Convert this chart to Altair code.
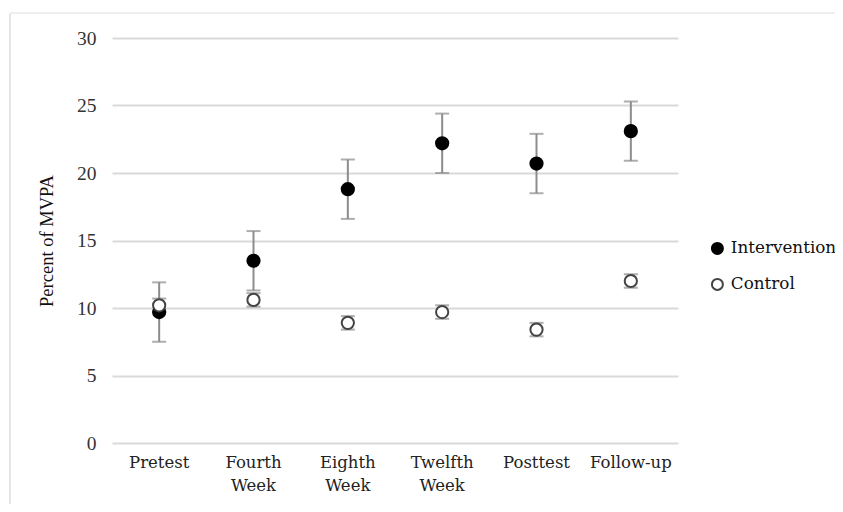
import altair as alt
import pandas as pd

categories = ["Pretest", "Fourth Week", "Eighth Week", "Twelfth Week", "Posttest", "Follow-up"]
groups = ["Intervention", "Control"]
intervention_mean = [9.7, 13.5, 18.8, 22.2, 20.7, 23.1]
intervention_err = [2.2, 2.2, 2.2, 2.2, 2.2, 2.2]
control_mean = [10.2, 10.6, 8.9, 9.7, 8.4, 12.0]
control_err = [0.5, 0.5, 0.5, 0.5, 0.5, 0.5]

rows = []
for c, m, e in zip(categories, intervention_mean, intervention_err):
    rows.append({"cat": c, "group": "Intervention", "mean": m, "lo": m - e, "hi": m + e})
for c, m, e in zip(categories, control_mean, control_err):
    rows.append({"cat": c, "group": "Control", "mean": m, "lo": m - e, "hi": m + e})
df = pd.DataFrame(rows)

W, H = 566, 405
xenc = alt.X("cat:N", sort=categories, title=None,
             scale=alt.Scale(paddingInner=0, paddingOuter=0),
             axis=alt.Axis(labelAngle=0, ticks=False, domain=False, grid=False,
                           labelExpr="split(datum.label, ' ')",
                           labelFont="DejaVu Serif", labelFontSize=16.5, labelColor="#222",
                           labelPadding=11, labelLineHeight=23, labelBaseline="top"))
yscale = alt.Scale(domain=[0, 30])

base = alt.Chart(df)

rules = base.mark_rule(color="#8c8c8c", strokeWidth=2).encode(
    x=xenc, y=alt.Y("lo:Q", scale=yscale), y2="hi:Q")
caps_hi = base.mark_tick(color="#8c8c8c", thickness=2, size=14, orient="horizontal").encode(
    x=xenc, y=alt.Y("hi:Q", scale=yscale))
caps_lo = base.mark_tick(color="#8c8c8c", thickness=2, size=14, orient="horizontal").encode(
    x=xenc, y=alt.Y("lo:Q", scale=yscale))

leg = dict(title=None, orient="none", legendX=597, legendY=202,
           labelFont="DejaVu Serif", labelFontSize=16.8, labelColor="#111",
           symbolSize=120, symbolStrokeWidth=2, rowPadding=16, labelOffset=5,
           labelLimit=300)

points = base.mark_point(shape="circle", size=150, strokeWidth=2, opacity=1, filled=False).encode(
    x=xenc,
    y=alt.Y("mean:Q", scale=yscale, title="Percent of MVPA",
            axis=alt.Axis(values=[0, 5, 10, 15, 20, 25, 30], ticks=False, domain=False,
                          gridColor="#d9d9d9", gridWidth=2,
                          labelFont="Liberation Serif", labelFontSize=19.5, labelColor="#333",
                          labelPadding=16, titleFont="Liberation Serif", titleFontSize=18.5,
                          titleFontWeight="normal", titleColor="#111", titlePadding=20)),
    fill=alt.Fill("group:N", sort=groups,
                  scale=alt.Scale(domain=groups, range=["#000000", "#ffffff"]),
                  legend=alt.Legend(**leg)),
    stroke=alt.Stroke("group:N", sort=groups,
                      scale=alt.Scale(domain=groups, range=["#000000", "#444444"]),
                      legend=alt.Legend(**leg)),
)

frame_left = alt.Chart(df).mark_rule(color="#e6e6e6", strokeWidth=2, clip=False).encode(
    x=alt.value(-102), y=alt.value(-25), y2=alt.value(H + 70))
frame_top = alt.Chart(df).mark_rule(color="#eeeeee", strokeWidth=2, clip=False).encode(
    x=alt.value(-102), x2=alt.value(W + 170), y=alt.value(-25))

chart = alt.layer(frame_left, frame_top, rules, caps_hi, caps_lo, points).properties(
    width=W, height=H,
    autosize=alt.AutoSizeParams(type="none"),
    padding={"left": 104, "top": 30, "right": 157, "bottom": 61},
).configure(background="white").configure_view(strokeWidth=0, stroke=None)

chart.save("out.html", embed_options={"renderer": "svg", "actions": False})
